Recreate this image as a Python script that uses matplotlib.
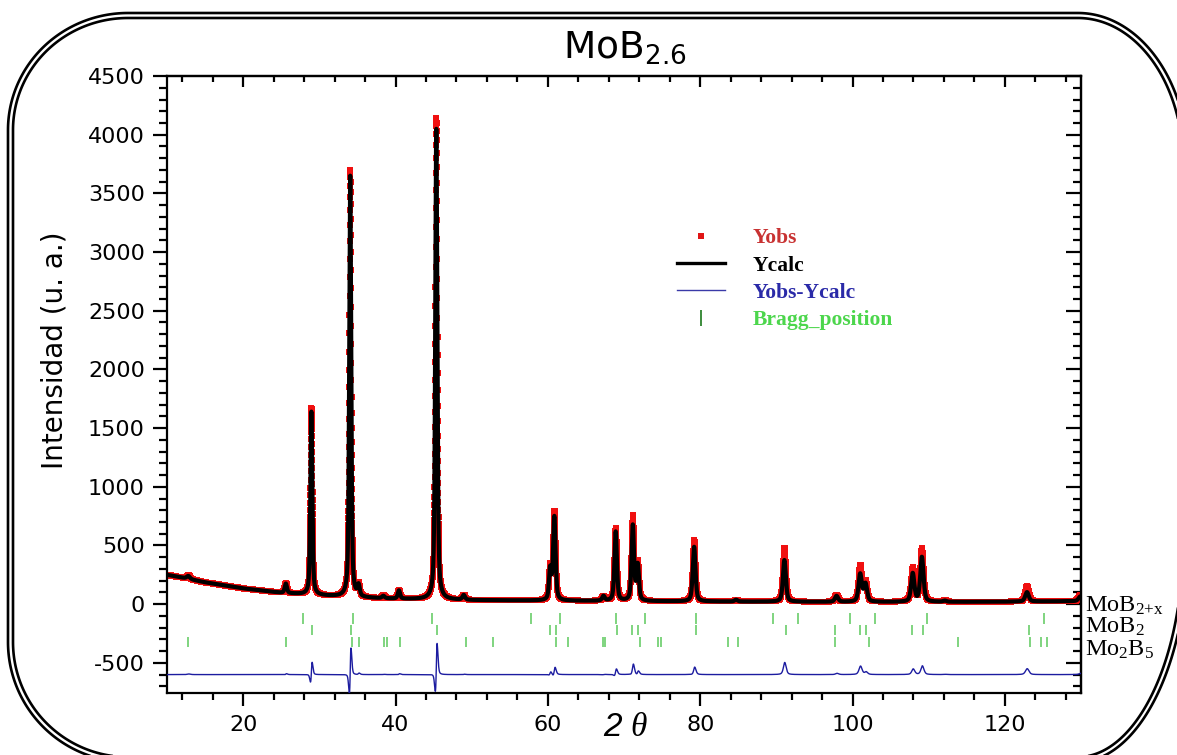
import numpy as np
import matplotlib.pyplot as plt
from matplotlib.lines import Line2D
from matplotlib.patches import Polygon

plt.rcParams['mathtext.default'] = 'regular'
plt.rcParams['axes.unicode_minus'] = False

# background points (linear between points, as in the refinement)
bg_tth = [10, 12, 15, 20, 25, 30, 35, 40, 50, 60, 70, 80, 90, 100, 110, 120, 130]
bg_cts = [250, 226, 186, 134, 96, 74, 55, 45, 34, 30, 26, 23, 21, 19, 19, 21, 26]

# reflections: position, calculated / observed height above background, FWHM
peak_tth = [12.8, 25.6, 28.95, 34.05, 35.15, 38.4, 40.45, 45.35, 48.95,
            60.3, 60.85, 67.3, 68.9, 71.15, 71.8, 79.2, 84.7, 91.05, 97.9,
            101.0, 101.7, 107.9, 109.1, 112.1, 122.9, 129.9]
calc_height = [25, 80, 1560, 3590, 90, 20, 70, 4010, 40,
               260, 710, 40, 590, 640, 300, 465, 15, 355, 50,
               235, 150, 240, 380, 10, 80, 40]
obs_height = [30, 85, 1590, 3640, 100, 22, 75, 4100, 42,
              275, 750, 40, 620, 715, 320, 520, 15, 455, 60,
              305, 170, 285, 450, 12, 130, 50]
peak_fwhm = [0.5, 0.35, 0.3, 0.3, 0.35, 0.4, 0.35, 0.32, 0.4,
             0.35, 0.38, 0.4, 0.38, 0.38, 0.38, 0.42, 0.45, 0.45, 0.5,
             0.5, 0.5, 0.5, 0.5, 0.5, 0.55, 0.55]
zero_shift = 0.012
diff_offset = -600

# Bragg positions of each phase
bragg_mob2x = [27.9, 34.4, 44.8, 57.8, 61.6, 69.0, 72.7, 79.5, 89.6, 92.9,
               99.7, 103.0, 109.8, 125.1]
bragg_mob2 = [29.0, 34.1, 45.5, 60.3, 61.1, 69.1, 71.1, 71.8, 79.5, 91.2,
              97.7, 101.0, 101.7, 107.8, 109.3, 123.2]
bragg_mo2b5 = [12.7, 25.6, 34.3, 35.2, 38.5, 38.9, 40.6, 49.3, 52.8, 61.1,
               62.6, 67.3, 67.5, 72.1, 74.4, 74.9, 83.7, 84.9, 97.7, 102.2,
               113.9, 123.3, 124.8, 125.5]
bragg_rows = [-120, -221, -324]
phase_names = ['MoB$_{2{+}x}$', 'MoB$_{2}$', 'Mo$_{2}$B$_{5}$']
phase_label_y = [-68, -243, -441]


def pseudo_voigt(x, x0, fwhm, eta=0.5):
    d = (x - x0) / fwhm
    lor = 1.0 / (1.0 + 4.0 * d**2)
    gau = np.exp(-4.0 * np.log(2) * d**2)
    return eta * lor + (1 - eta) * gau


def rounded_frame(fig, x0, y0, x1, y1, radii, **kw):
    # rounded rectangle in pixels from the top-left corner;
    # radii = (rx, ry) for top-right, bottom-right, bottom-left, top-left
    W, H = fig.get_size_inches() * fig.dpi
    (r1x, r1y), (r2x, r2y), (r3x, r3y), (r4x, r4y) = radii
    corners = [(x1 - r1x, y0 + r1y, r1x, r1y, -np.pi / 2, 0),
               (x1 - r2x, y1 - r2y, r2x, r2y, 0, np.pi / 2),
               (x0 + r3x, y1 - r3y, r3x, r3y, np.pi / 2, np.pi),
               (x0 + r4x, y0 + r4y, r4x, r4y, np.pi, 1.5 * np.pi)]
    pts = []
    for cx, cy, rx, ry, a0, a1 in corners:
        a = np.linspace(a0, a1, 80)
        pts.extend(zip((cx + rx * np.cos(a)) / W, 1 - (cy + ry * np.sin(a)) / H))
    fig.add_artist(Polygon(pts, closed=True, fill=False,
                           transform=fig.transFigure, **kw))


tth = np.arange(10, 130.005, 0.01)
bg = np.interp(tth, bg_tth, bg_cts)
ycalc = bg.copy()
yobs = bg.copy()
for x0, hc, ho, w in zip(peak_tth, calc_height, obs_height, peak_fwhm):
    ycalc += hc * pseudo_voigt(tth, x0, w)
    yobs += ho * pseudo_voigt(tth, x0 + zero_shift, w)
ydiff = yobs - ycalc + diff_offset

fig = plt.figure(figsize=(11.77, 7.55), dpi=100)
ax = fig.add_axes([0.1419, 0.0821, 0.7766, 0.8172])

ax.plot(tth, yobs, 's', color='#f01010', ms=4.2, mew=0, zorder=2)
ax.plot(tth, ycalc, '-', color='black', lw=3.0, zorder=3)
ax.plot(tth, ydiff, '-', color='#1c1ca0', lw=1.0, zorder=3)

bragg_green = '#6acd6a'
for pos, yc in zip([bragg_mob2x, bragg_mob2, bragg_mo2b5], bragg_rows):
    ax.vlines(pos, yc - 45, yc + 45, color=bragg_green, lw=1.2, zorder=2)

ax.set_xlim(10, 130)
ax.set_ylim(-757, 4500)
ax.set_xticks(np.arange(20, 121, 20))
ax.set_xticks(np.arange(12, 130, 4), minor=True)
ax.set_yticks(np.arange(-500, 4501, 500))
ax.set_yticks(np.arange(-700, 4501, 100), minor=True)
for s in ax.spines.values():
    s.set_linewidth(1.6)
ax.tick_params(axis='x', which='major', direction='out', length=9, width=1.6,
               pad=7, labelsize=16, top=False)
ax.tick_params(axis='x', which='minor', direction='out', length=5, width=1.6,
               top=False)
ax.tick_params(axis='y', which='major', direction='out', length=10, width=1.6,
               pad=6, labelsize=16, right=False)
ax.tick_params(axis='y', which='minor', direction='out', length=6, width=1.6,
               right=False)

# inward ticks on top and right
top = ax.secondary_xaxis('top')
top.set_xticks(np.arange(20, 121, 20))
top.set_xticks(np.arange(12, 130, 4), minor=True)
top.tick_params(which='major', direction='in', length=8, width=1.6, labeltop=False)
top.tick_params(which='minor', direction='in', length=4.5, width=1.6)
right = ax.secondary_yaxis('right')
right.set_yticks(np.arange(-500, 4501, 500))
right.set_yticks(np.arange(-700, 4501, 100), minor=True)
right.tick_params(which='major', direction='in', length=11, width=1.6, labelright=False)
right.tick_params(which='minor', direction='in', length=5.5, width=1.6)
for sec in (top, right):
    for s in sec.spines.values():
        s.set_linewidth(1.6)

for name, yl in zip(phase_names, phase_label_y):
    ax.text(1.004, yl, name, transform=ax.get_yaxis_transform(),
            family='Liberation Serif', fontsize=17.5, va='baseline', ha='left')

handles = [
    Line2D([], [], ls='none', marker='s', color='#e01515', ms=3.8, mew=0),
    Line2D([], [], color='black', lw=2.4),
    Line2D([], [], color='#3a3aa8', lw=1.0),
    Line2D([], [], ls='none', marker='|', color='#3c8c3c', ms=11, mew=1.4),
]
labels = ['Yobs', 'Ycalc', 'Yobs-Ycalc', 'Bragg_position']
leg = ax.legend(handles, labels, loc='upper left', bbox_to_anchor=(0.537, 0.785),
                frameon=False, handlelength=2.2, handletextpad=1.3,
                labelspacing=0.34,
                prop={'family': 'Liberation Serif', 'weight': 'bold', 'size': 15.5},
                labelcolor=['#c83232', 'black', '#2a2aa8', '#4cd64c'])

fig.text(0.531, 0.923, 'MoB$_{2.6}$', fontsize=27, ha='center', va='baseline')
fig.text(0.0467, 0.536, 'Intensidad (u. a.)', fontsize=20, rotation=90,
         ha='center', va='center')
fig.text(0.5208, 0.0358, '2', fontsize=24, style='italic',
         family='Liberation Sans', ha='center', va='center')
fig.text(0.5429, 0.0358, 'θ', fontsize=24, style='italic',
         family='Liberation Serif', ha='center', va='center')

# double rounded border around the whole figure
rounded_frame(fig, 8, 13, 1188, 762,
              [(110, 150), (110, 220), (120, 120), (120, 117)],
              ec='black', lw=1.9)
rounded_frame(fig, 13, 18, 1183, 757,
              [(105, 145), (105, 215), (115, 115), (115, 112)],
              ec='black', lw=1.9)

fig.savefig('out.png', dpi=100)
